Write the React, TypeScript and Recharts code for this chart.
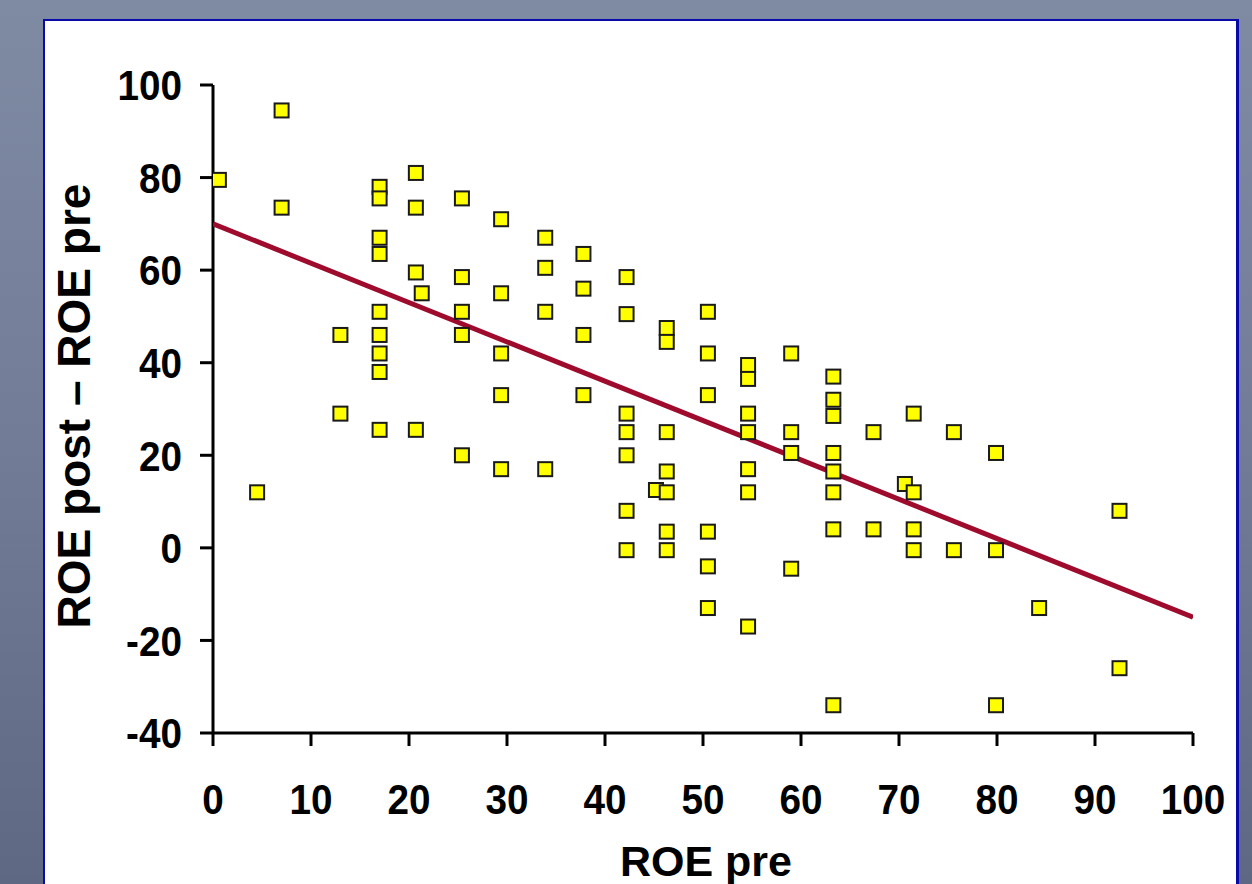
import React from 'react';
import { ScatterChart, Scatter, XAxis, YAxis } from 'recharts';

// ROE pre (x) and ROE post – ROE pre (y)
const roePre: number[] = [
  0.6, 4.5, 7, 7, 13, 13,
  17, 17, 17, 17, 17, 17, 17, 17, 17,
  20.7, 20.7, 20.7, 20.7, 21.3,
  25.4, 25.4, 25.4, 25.4, 25.4,
  29.4, 29.4, 29.4, 29.4, 29.4,
  33.9, 33.9, 33.9, 33.9,
  37.8, 37.8, 37.8, 37.8,
  42.2, 42.2, 42.2, 42.2, 42.2, 42.2, 42.2,
  45.2,
  46.3, 46.3, 46.3, 46.3, 46.3, 46.3, 46.3,
  50.5, 50.5, 50.5, 50.5, 50.5, 50.5,
  54.6, 54.6, 54.6, 54.6, 54.6, 54.6, 54.6,
  59, 59, 59, 59,
  63.3, 63.3, 63.3, 63.3, 63.3, 63.3, 63.3, 63.3,
  67.4, 67.4, 70.6,
  71.5, 71.5, 71.5, 71.5,
  75.6, 75.6,
  79.9, 79.9, 79.9,
  84.3, 92.5, 92.5,
];
const roeDiff: number[] = [
  79.5, 12, 94.5, 73.5, 46, 29,
  78, 75.5, 67, 63.5, 51, 46, 42, 38, 25.5,
  81, 73.5, 59.5, 25.5, 55,
  75.5, 58.5, 51, 46, 20,
  71, 55, 42, 33, 17,
  67, 60.5, 51, 17,
  63.5, 56, 46, 33,
  58.5, 50.5, 29, 25, 20, 8, -0.5,
  12.5,
  47.5, 44.5, 25, 16.5, 12, 3.5, -0.5,
  51, 42, 33, 3.5, -4, -13,
  39.5, 36.5, 29, 25, 17, 12, -17,
  42, 25, 20.5, -4.5,
  37, 32, 28.5, 20.5, 16.5, 12, 4, -34,
  25, 4, 13.8,
  29, 12, 4, -0.5,
  25, -0.5,
  20.5, -0.5, -34,
  -13, 8, -26,
];

// regression line end points
const trendX: number[] = [0, 100];
const trendY: number[] = [70, -15];

const xTicks: number[] = [0, 10, 20, 30, 40, 50, 60, 70, 80, 90, 100];
const yTicks: number[] = [-40, -20, 0, 20, 40, 60, 80, 100];

const points = roePre.map((x, i) => ({ x, y: roeDiff[i] }));
const trend = trendX.map((x, i) => ({ x, y: trendY[i] }));

const FONT = 'Liberation Sans, Arial, Helvetica, sans-serif';

const Square = (props: any) => {
  const { cx, cy } = props;
  if (cx == null || cy == null) return null;
  return (
    <rect x={cx - 7} y={cy - 7} width={14} height={14} fill="#ffff00" stroke="#1a1a1a" strokeWidth={2} />
  );
};

const XTick = (props: any) => {
  const { x, y, payload } = props;
  return (
    <g transform={`translate(${x},${y})`}>
      <text
        transform="scale(0.9,1)"
        textAnchor="middle"
        dy="0.71em"
        fontSize={43}
        fontWeight="bold"
        fontFamily={FONT}
        fill="#000"
      >
        {payload.value}
      </text>
    </g>
  );
};

const YTick = (props: any) => {
  const { x, y, payload } = props;
  return (
    <g transform={`translate(${x},${y})`}>
      <text
        transform="scale(0.9,1)"
        textAnchor="end"
        dy="0.355em"
        fontSize={43}
        fontWeight="bold"
        fontFamily={FONT}
        fill="#000"
      >
        {payload.value}
      </text>
    </g>
  );
};

export default function App() {
  return (
    <div
      style={{
        position: 'absolute',
        left: 0,
        top: 0,
        width: 1252,
        height: 884,
        overflow: 'hidden',
        background: 'linear-gradient(to bottom, #7f8aa3 0%, #727c97 50%, #5f6882 100%)',
      }}
    >
      <div
        style={{
          position: 'absolute',
          left: 43,
          top: 19,
          width: 1191,
          height: 900,
          background: '#ffffff',
          borderLeft: '2px solid #0a0aa8',
          borderTop: '2px solid #0a0aa8',
          borderRight: '3px solid #0a0aa8',
        }}
      />
      <div style={{ position: 'absolute', left: 0, top: 0 }}>
        <ScatterChart width={1252} height={884} margin={{ top: 85, right: 59, bottom: 51, left: 113 }}>
          <XAxis
            type="number"
            dataKey="x"
            domain={[0, 100]}
            ticks={xTicks}
            interval={0}
            height={100}
            tickSize={13}
            tickMargin={37}
            tick={<XTick />}
            axisLine={{ stroke: '#000', strokeWidth: 3 }}
            tickLine={{ stroke: '#000', strokeWidth: 3 }}
            allowDataOverflow
            label={{
              content: () => (
                <text x={706} y={876} textAnchor="middle" fontSize={43} fontWeight="bold" fontFamily={FONT} fill="#000">
                  ROE pre
                </text>
              ),
            }}
          />
          <YAxis
            type="number"
            dataKey="y"
            domain={[-40, 100]}
            ticks={yTicks}
            interval={0}
            width={100}
            tickSize={13}
            tickMargin={18}
            tick={<YTick />}
            axisLine={{ stroke: '#000', strokeWidth: 3 }}
            tickLine={{ stroke: '#000', strokeWidth: 3 }}
            allowDataOverflow
            label={{
              content: () => (
                <text
                  x={90}
                  y={406}
                  textAnchor="middle"
                  fontSize={46}
                  fontWeight="bold"
                  fontFamily={FONT}
                  fill="#000"
                  transform="rotate(-90 90 406)"
                >
                  ROE post – ROE pre
                </text>
              ),
            }}
          />
          <Scatter
            data={trend}
            line={{ stroke: '#9e0b2c', strokeWidth: 5 }}
            shape={() => null}
            isAnimationActive={false}
          />
          <Scatter data={points} shape={Square} isAnimationActive={false} />
        </ScatterChart>
      </div>
    </div>
  );
}
